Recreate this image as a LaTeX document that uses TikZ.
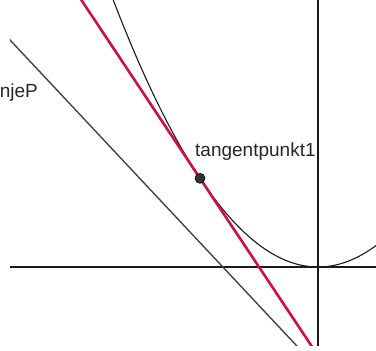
\documentclass[tikz,border=0pt]{standalone}
\usepackage{fontspec}
\setmainfont{Liberation Sans}
\usepackage{tikz}
\definecolor{axisgray}{HTML}{1A1A1A}
\definecolor{linegray}{HTML}{444444}
\definecolor{tanred}{HTML}{D0103A}
\definecolor{ptgray}{HTML}{333333}
\definecolor{labelgray}{HTML}{262626}

\begin{document}
\begin{tikzpicture}[x=1pt,y=1pt,font=\fontsize{19}{19}\selectfont]
\useasboundingbox (-318,-84) rectangle (58,267);
\clip (-318,-84) rectangle (58,267);
\node[labelgray,anchor=base east,inner sep=0] (linjeP) at (-280,169) {linjeP};
\begin{scope}
\clip (-308,-79) rectangle (58,267);
\draw[axisgray,line width=1.4] (-308,0)--(58,0);
\draw[axisgray,line width=1.4] (0,-79)--(0,267);
\draw[linegray,line width=1.4] (-330,250.5)--(-10.8,-90);
\draw[axisgray,line width=1.1] plot[domain=-240:60,samples=120] (\x,{\x*\x/157});
\draw[tanred,line width=2.6] (-245.3,280)--(0.9,-90);
\end{scope}
\coordinate (T) at (-118,88.7);
\fill[ptgray] (T) circle(5);
\draw[black,line width=0.6] (T) circle(5);
\node[labelgray,anchor=base west,inner sep=0] (tp) at (-123,110) {tangentpunkt1};
\end{tikzpicture}
\end{document}
